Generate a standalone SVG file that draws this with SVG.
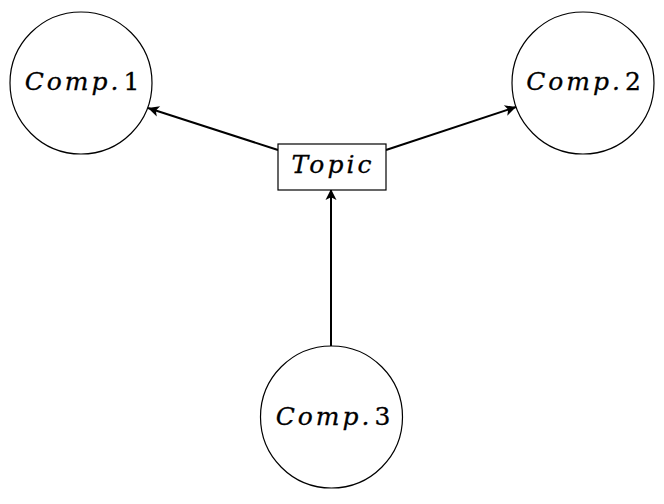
<svg xmlns="http://www.w3.org/2000/svg" width="664" height="504" viewBox="0 0 664 504">
  <style>
    .node { fill: #fff; stroke: #000; stroke-width: 1.2; }
    .label { font-family: "DejaVu Serif", "Liberation Serif", serif; font-size: 25px; font-style: italic; letter-spacing: 3px; text-anchor: middle; fill: #000; stroke: #000; stroke-width: 0.3; }
    .num { font-style: normal; }
    .edge { fill: none; stroke: #000; stroke-width: 2; marker-end: url(#arrow); }
  </style>
  <defs>
    <!-- stealth-style arrow tip; the tip sits on the end of the line -->
    <marker id="arrow" viewBox="0 0 10 10" refX="10" refY="5" markerWidth="12" markerHeight="11" orient="auto" markerUnits="userSpaceOnUse" overflow="visible">
      <path d="M0,0 L10,5 L0,10 L2.5,5 Z" fill="#000"/>
    </marker>
  </defs>

  <g id="connectors">
    <line class="edge" x1="278" y1="150" x2="148" y2="108"/>
    <line class="edge" x1="386" y1="150" x2="516" y2="107"/>
    <line class="edge" x1="331" y1="346" x2="331" y2="189"/>
  </g>

  <g id="comp1">
    <circle class="node" cx="81" cy="83" r="71"/>
    <text class="label" x="83.5" y="90">Comp.<tspan class="num" dx="2">1</tspan></text>
  </g>

  <g id="comp2">
    <circle class="node" cx="583" cy="83" r="71"/>
    <text class="label" x="585" y="90">Comp.<tspan class="num" dx="2">2</tspan></text>
  </g>

  <g id="comp3">
    <circle class="node" cx="331.5" cy="417" r="71"/>
    <text class="label" x="334.5" y="425">Comp.<tspan class="num" dx="2">3</tspan></text>
  </g>

  <g id="topic">
    <rect class="node" x="278" y="144" width="108" height="46"/>
    <text class="label" x="333" y="173">Topic</text>
  </g>
</svg>
